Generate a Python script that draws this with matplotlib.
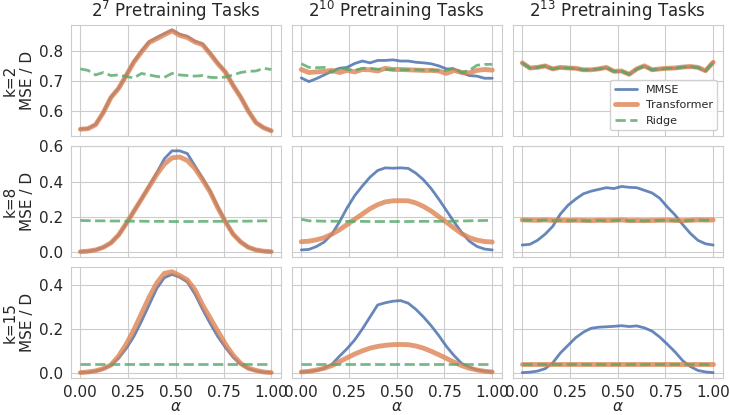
import matplotlib
matplotlib.use("Agg")
import matplotlib.pyplot as plt
import numpy as np
import seaborn as sns
from matplotlib.ticker import MultipleLocator, FormatStrFormatter

# wartosci alfa (26 punktow)
alpha = np.linspace(0, 1, 26)

zadania = ["$2^{7}$ Pretraining Tasks", "$2^{10}$ Pretraining Tasks", "$2^{13}$ Pretraining Tasks"]
wiersze = ["k=2", "k=8", "k=15"]

# k=2, 2^7
mmse_k2_t7 = [0.541, 0.543, 0.556, 0.596, 0.646, 0.676, 0.719, 0.764, 0.799, 0.830, 0.844, 0.857, 0.869,
              0.855, 0.848, 0.832, 0.823, 0.792, 0.759, 0.730, 0.686, 0.647, 0.600, 0.562, 0.545, 0.535]
tr_k2_t7 = [0.540, 0.542, 0.555, 0.595, 0.645, 0.675, 0.718, 0.762, 0.796, 0.827, 0.840, 0.853, 0.866,
            0.851, 0.844, 0.829, 0.820, 0.790, 0.757, 0.729, 0.685, 0.646, 0.600, 0.562, 0.545, 0.535]
ridge_k2_t7 = [0.740, 0.735, 0.720, 0.728, 0.718, 0.720, 0.715, 0.710, 0.725, 0.720, 0.715, 0.712, 0.725,
               0.720, 0.718, 0.716, 0.718, 0.712, 0.711, 0.713, 0.720, 0.728, 0.732, 0.733, 0.742, 0.738]

# k=2, 2^10
mmse_k2_t10 = [0.710, 0.698, 0.708, 0.720, 0.732, 0.742, 0.745, 0.758, 0.766, 0.760, 0.768, 0.768, 0.770,
               0.766, 0.766, 0.762, 0.760, 0.757, 0.750, 0.740, 0.740, 0.727, 0.718, 0.716, 0.709, 0.709]
tr_k2_t10 = [0.738, 0.728, 0.730, 0.732, 0.735, 0.728, 0.735, 0.730, 0.738, 0.737, 0.733, 0.742, 0.738,
             0.738, 0.737, 0.736, 0.735, 0.735, 0.733, 0.725, 0.735, 0.728, 0.727, 0.735, 0.738, 0.736]
ridge_k2_t10 = [0.757, 0.745, 0.744, 0.745, 0.728, 0.745, 0.738, 0.735, 0.742, 0.742, 0.739, 0.738, 0.738,
                0.737, 0.737, 0.737, 0.736, 0.736, 0.735, 0.735, 0.743, 0.728, 0.735, 0.752, 0.755, 0.755]

# k=2, 2^13
mmse_k2_t13 = [0.759, 0.742, 0.745, 0.749, 0.739, 0.744, 0.742, 0.741, 0.736, 0.737, 0.739, 0.744, 0.731,
               0.732, 0.722, 0.739, 0.749, 0.736, 0.739, 0.741, 0.742, 0.745, 0.747, 0.744, 0.733, 0.761]
tr_k2_t13 = [0.760, 0.743, 0.745, 0.750, 0.740, 0.745, 0.743, 0.742, 0.737, 0.737, 0.740, 0.745, 0.732,
             0.733, 0.722, 0.740, 0.750, 0.737, 0.740, 0.742, 0.743, 0.746, 0.748, 0.745, 0.734, 0.762]
ridge_k2_t13 = [0.760, 0.743, 0.745, 0.750, 0.740, 0.745, 0.743, 0.742, 0.737, 0.737, 0.740, 0.745, 0.732,
                0.733, 0.722, 0.740, 0.750, 0.737, 0.740, 0.742, 0.743, 0.746, 0.748, 0.745, 0.734, 0.762]

# k=8, 2^7
mmse_k8_t7 = [0.000, 0.003, 0.010, 0.025, 0.050, 0.095, 0.160, 0.230, 0.300, 0.375, 0.450, 0.530, 0.575,
              0.575, 0.560, 0.490, 0.420, 0.345, 0.255, 0.172, 0.100, 0.055, 0.025, 0.010, 0.003, 0.000]
tr_k8_t7 = [0.000, 0.003, 0.010, 0.025, 0.050, 0.095, 0.160, 0.230, 0.300, 0.370, 0.440, 0.500, 0.535,
            0.540, 0.520, 0.475, 0.410, 0.340, 0.250, 0.170, 0.100, 0.055, 0.025, 0.010, 0.003, 0.000]
ridge_k8_t7 = [0.178, 0.177, 0.176, 0.176, 0.175, 0.175, 0.174, 0.174, 0.174, 0.173, 0.173, 0.173, 0.172,
               0.172, 0.172, 0.172, 0.173, 0.173, 0.173, 0.173, 0.174, 0.174, 0.174, 0.175, 0.176, 0.175]

# k=8, 2^10
mmse_k8_t10 = [0.010, 0.013, 0.030, 0.055, 0.100, 0.170, 0.250, 0.320, 0.375, 0.425, 0.463, 0.478, 0.476,
               0.478, 0.475, 0.448, 0.410, 0.360, 0.300, 0.235, 0.170, 0.110, 0.060, 0.030, 0.015, 0.010]
tr_k8_t10 = [0.057, 0.060, 0.068, 0.080, 0.100, 0.125, 0.155, 0.185, 0.215, 0.245, 0.268, 0.284, 0.290,
             0.291, 0.290, 0.278, 0.258, 0.232, 0.200, 0.168, 0.135, 0.103, 0.080, 0.066, 0.058, 0.055]
ridge_k8_t10 = [0.185, 0.176, 0.175, 0.174, 0.174, 0.173, 0.173, 0.173, 0.173, 0.172, 0.172, 0.172, 0.172,
                0.172, 0.172, 0.173, 0.173, 0.173, 0.173, 0.174, 0.174, 0.175, 0.176, 0.177, 0.178, 0.178]

# k=8, 2^13
mmse_k8_t13 = [0.038, 0.042, 0.065, 0.100, 0.145, 0.215, 0.265, 0.300, 0.330, 0.345, 0.355, 0.365, 0.360,
               0.372, 0.367, 0.365, 0.350, 0.335, 0.305, 0.255, 0.210, 0.155, 0.105, 0.065, 0.045, 0.038]
tr_k8_t13 = [0.181, 0.180, 0.179, 0.181, 0.178, 0.179, 0.178, 0.179, 0.178, 0.177, 0.179, 0.178, 0.179,
             0.181, 0.177, 0.178, 0.177, 0.178, 0.179, 0.180, 0.178, 0.177, 0.179, 0.181, 0.180, 0.181]
ridge_k8_t13 = [0.180, 0.179, 0.178, 0.180, 0.177, 0.178, 0.177, 0.178, 0.177, 0.176, 0.178, 0.177, 0.178,
                0.180, 0.176, 0.177, 0.176, 0.177, 0.178, 0.179, 0.177, 0.176, 0.178, 0.180, 0.179, 0.180]

# k=15, 2^7
mmse_k15_t7 = [0.000, 0.002, 0.007, 0.017, 0.033, 0.065, 0.110, 0.165, 0.235, 0.310, 0.385, 0.435, 0.450,
               0.437, 0.415, 0.360, 0.290, 0.225, 0.165, 0.115, 0.070, 0.038, 0.018, 0.008, 0.002, 0.000]
tr_k15_t7 = [0.000, 0.003, 0.008, 0.018, 0.035, 0.075, 0.130, 0.195, 0.270, 0.345, 0.410, 0.455, 0.462,
             0.445, 0.425, 0.380, 0.310, 0.250, 0.190, 0.130, 0.080, 0.042, 0.020, 0.010, 0.003, 0.000]
ridge_k15_t7 = [0.040] * 26

# k=15, 2^10
mmse_k15_t10 = [0.003, 0.005, 0.010, 0.020, 0.038, 0.075, 0.110, 0.150, 0.200, 0.255, 0.310, 0.320, 0.327,
                0.330, 0.318, 0.290, 0.255, 0.215, 0.170, 0.120, 0.078, 0.042, 0.025, 0.013, 0.007, 0.003]
tr_k15_t10 = [0.003, 0.006, 0.012, 0.020, 0.032, 0.050, 0.068, 0.085, 0.100, 0.112, 0.120, 0.125, 0.128,
              0.129, 0.128, 0.122, 0.112, 0.098, 0.082, 0.065, 0.048, 0.032, 0.020, 0.012, 0.006, 0.003]
ridge_k15_t10 = [0.040] * 26

# k=15, 2^13
mmse_k15_t13 = [0.000, 0.002, 0.007, 0.018, 0.045, 0.090, 0.125, 0.160, 0.185, 0.203, 0.208, 0.210, 0.212,
                0.215, 0.211, 0.214, 0.205, 0.190, 0.163, 0.130, 0.095, 0.055, 0.028, 0.010, 0.003, 0.000]
tr_k15_t13 = [0.040] * 26
ridge_k15_t13 = [0.040] * 26

dane = [
    [(mmse_k2_t7, tr_k2_t7, ridge_k2_t7), (mmse_k2_t10, tr_k2_t10, ridge_k2_t10),
     (mmse_k2_t13, tr_k2_t13, ridge_k2_t13)],
    [(mmse_k8_t7, tr_k8_t7, ridge_k8_t7), (mmse_k8_t10, tr_k8_t10, ridge_k8_t10),
     (mmse_k8_t13, tr_k8_t13, ridge_k8_t13)],
    [(mmse_k15_t7, tr_k15_t7, ridge_k15_t7), (mmse_k15_t10, tr_k15_t10, ridge_k15_t10),
     (mmse_k15_t13, tr_k15_t13, ridge_k15_t13)],
]

sns.set_style("whitegrid")
kolory = sns.color_palette("deep")

fig, axes = plt.subplots(3, 3, figsize=(7.3, 4.15), dpi=100, sharex=True, sharey="row")
plt.subplots_adjust(left=0.097, right=0.99, top=0.94, bottom=0.09, wspace=0.052, hspace=0.09)

krok_y = [0.1, 0.2, 0.2]

for i in range(3):
    for j in range(3):
        ax = axes[i, j]
        mmse, tr, ridge = dane[i][j]
        ax.plot(alpha, mmse, color=kolory[0], lw=2, alpha=0.85, label="MMSE")
        ax.plot(alpha, tr, color=kolory[1], lw=3.5, alpha=0.8, label="Transformer")
        ax.plot(alpha, ridge, color=kolory[2], lw=2, ls="--", alpha=0.8, label="Ridge")
        ax.tick_params(labelsize=11, pad=2)
        ax.yaxis.set_major_locator(MultipleLocator(krok_y[i]))
        ax.yaxis.set_major_formatter(FormatStrFormatter("%.1f"))
        ax.xaxis.set_major_locator(MultipleLocator(0.25))
        ax.xaxis.set_major_formatter(FormatStrFormatter("%.2f"))
        if i == 0:
            ax.set_title(zadania[j], fontsize=12)
        if i == 2:
            ax.set_xlabel(r"$\alpha$", fontsize=11, labelpad=-1)
        if j == 0:
            ax.set_ylabel(wiersze[i] + "\nMSE / D", fontsize=11, labelpad=3)

axes[0, 2].legend(loc="lower right", fontsize=8, frameon=True, framealpha=0.9)

fig.savefig("out.png", dpi=100)
